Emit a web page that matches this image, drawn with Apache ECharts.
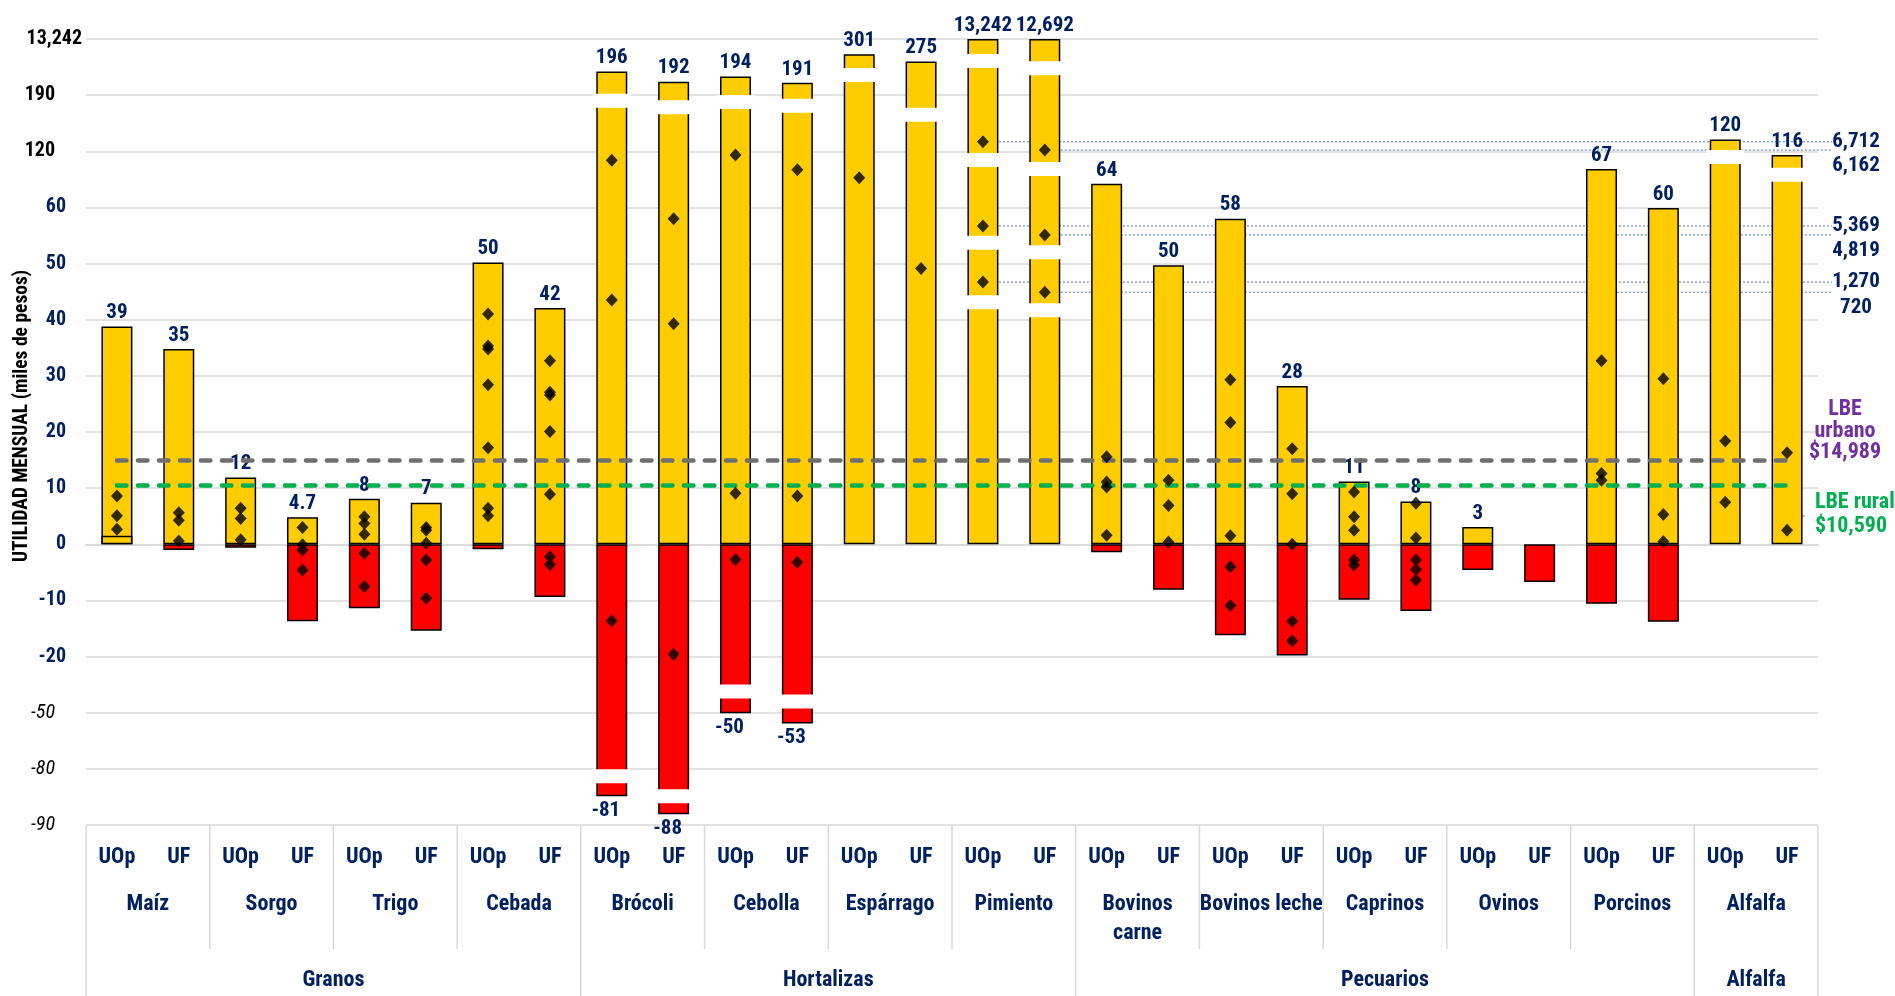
<!DOCTYPE html>
<html><head><meta charset="utf-8">
<script src="https://cdn.jsdelivr.net/npm/echarts@6/dist/echarts.min.js"></script>
<style>html,body{margin:0;padding:0;background:#fff}#c{width:1895px;height:996px}</style>
</head><body><div id="c"></div>
<script>
// ---------------- DATA ----------------
const subCats = ['UOp', 'UF'];
const crops = ['Maíz', 'Sorgo', 'Trigo', 'Cebada', 'Brócoli', 'Cebolla', 'Espárrago', 'Pimiento',
  'Bovinos carne', 'Bovinos leche', 'Caprinos', 'Ovinos', 'Porcinos', 'Alfalfa'];
const groups = ['Granos', 'Hortalizas', 'Pecuarios', 'Alfalfa'];
const groupSizes = [4, 4, 5, 1];
// printed (broken) y-axis ticks
const yTickValues = [-90, -80, -50, -20, -10, 0, 10, 20, 30, 40, 50, 60, 120, 190, 13242];
const yTickLabels = ['-90', '-80', '-50', '-20', '-10', '0', '10', '20', '30', '40', '50', '60', '120', '190', '13,242'];
// bar tops as read against the printed axis
const maxRead = [38.8, 34.8, 11.9, 4.8, 8.1, 7.4, 50.2, 42.1, 5672, 3322, 4497, 3061, 9718, 8021, 13242, 13242,
  85.2, 49.7, 58, 28.2, 11.2, 7.6, 3.1, null, 101, 59.9, 134.7, 115.9];
// printed value labels on top of bars
const maxLabel = [39, 35, 12, 4.7, 8, 7, 50, 42, 196, 192, 194, 191, 301, 275, 13242, 12692,
  64, 50, 58, 28, 11, 8, 3, null, 67, 60, 120, 116];
// bar bottoms as read against the printed axis (positive = lower edge of a bar that does not reach 0)
const minRead = [1.5, -1.0, -0.6, -13.7, -11.4, -15.4, -0.9, -9.4, -84.9, -88.1, -50.3, -55.7, null, null, null, null,
  -1.4, -8.1, -16.2, -19.8, -9.9, -11.9, -4.6, -6.7, -10.6, -13.8, null, null];
const minLabel = [null, null, null, null, null, null, null, null, -81, -88, -50, -53, null, null, null, null,
  null, null, null, null, null, null, null, null, null, null, null, null];
// individual observations (diamonds)
const diamonds = [
  [8.6, 5.1, 2.7], [5.6, 4.3, 0.6],
  [6.4, 4.6, 0.8], [3.0, -0.1, -1.0, -4.6],
  [4.9, 3.7, 1.8, -1.6, -7.5], [3.0, 2.5, 0.2, -2.8, -9.6],
  [41.0, 35.3, 34.8, 28.4, 17.2, 6.4, 5.1], [32.7, 27.1, 26.6, 20.1, 8.9, -2.2, -3.6],
  [110.5, 43.5, -13.6], [58.0, 39.3, -19.6],
  [115.9, 9.1, -2.7], [100.3, 8.6, -3.2],
  [91.8], [49.1],
  [131.8, 56.7, 46.7], [121.5, 55.1, 44.9],
  [15.6, 11.1, 10.2, 1.6], [11.4, 6.9, 0.4],
  [29.3, 21.7, 1.5, -4.0, -10.9], [17.0, 9.0, 0, -13.7, -17.2],
  [9.3, 4.9, 2.5, -2.8, -3.7], [7.3, 1.1, -2.8, -4.5, -6.4],
  [], [],
  [32.7, 12.6, 11.4], [29.5, 5.3, 0.5],
  [18.4, 7.5], [16.3, 2.5]
];
// axis breaks drawn on the bars: [category index, position on printed axis]
const breaks = [[8, 183], [9, 175], [10, 181.6], [11, 176.7], [12, 4889], [13, 165.5],
  [14, 8152], [14, 110.6], [14, 53.7], [14, 43.1], [15, 6455], [15, 101], [15, 52.0], [15, 41.7],
  [26, 114], [27, 94.8], [8, -81.3], [9, -84.9], [10, -38.6], [11, -44.0]];
// true values of the Pimiento observations (annotated on the right)
const pimientoUOpValues = [6712, 5369, 1270];
const pimientoUFValues = [6162, 4819, 720];
const lbeUrbano = 14.989;
const lbeRural = 10.590;

// ---------------- HELPERS ----------------
const FONT = '"Liberation Sans Narrow", "Roboto Condensed", "Arial Narrow", "DejaVu Sans Condensed", "Liberation Sans", sans-serif';
const NAVY = '#002060';
const ZI = yTickValues.indexOf(0);
function T(v) {
  const k = yTickValues;
  if (v <= k[0]) return -ZI;
  for (let i = 0; i < k.length - 1; i++) {
    if (v <= k[i + 1]) return i + (v - k[i]) / (k[i + 1] - k[i]) - ZI;
  }
  return k.length - 1 - ZI;
}
function fmt(n) { return n >= 1000 ? n.toLocaleString('en-US') : String(n); }

const cats = [];
crops.forEach(() => subCats.forEach(s => cats.push(s)));
const N = cats.length;

const maxData = maxRead.map(v => (v != null && v > 0) ? T(v) : '-');
const baseData = minRead.map(v => (v != null && v > 0) ? T(v) : '-');
const minData = minRead.map(v => (v != null && v < 0) ? T(v) : '-');
const diamondData = [];
diamonds.forEach((arr, i) => arr.forEach(v => diamondData.push([i, T(v)])));
const breakData = breaks.map(b => [b[0], T(b[1])]);

const chart = echarts.init(document.getElementById('c'), null, { renderer: 'canvas' });
const barCommon = { type: 'bar', barWidth: 31, barGap: '-100%', itemStyle: { borderColor: '#000', borderWidth: 1.5 } };
const dashStyle = [9.5, 11.5];

chart.setOption({
  animation: false,
  backgroundColor: '#fff',
  grid: { left: 86, right: 77, top: 39, bottom: 171, containLabel: false, outerBoundsMode: 'none' },
  xAxis: {
    type: 'category', data: cats,
    axisLine: { lineStyle: { color: '#d9d9d9', width: 1.5 } },
    axisTick: { show: false },
    axisLabel: { interval: 0, margin: 32, verticalAlign: 'middle', color: NAVY, fontWeight: 'bold', fontSize: 22, fontFamily: FONT }
  },
  yAxis: {
    type: 'value', min: -ZI, max: yTickValues.length - 1 - ZI, interval: 1,
    axisLine: { show: false }, axisTick: { show: false },
    splitLine: { lineStyle: { color: '#d9d9d9', width: 1.5 } },
    axisLabel: {
      margin: 3,
      formatter: function (v) {
        const i = Math.round(v) + ZI;
        const val = yTickValues[i];
        let st = 'n';
        if (val === 13242) st = 't';
        else if (val > 60) st = 'b';
        else if (val < -20) st = 'i';
        return '{' + st + '|' + yTickLabels[i] + '}';
      },
      rich: {
        n: { color: NAVY, fontWeight: 'bold', fontSize: 20, fontFamily: FONT, padding: [0, 17, 0, 0] },
        b: { color: '#000', fontWeight: 'bold', fontSize: 20, fontFamily: FONT, padding: [0, 28, 0, 0] },
        i: { color: '#000', fontStyle: 'italic', fontSize: 20, fontFamily: FONT, padding: [0, 28, 0, 0] },
        t: { color: '#000', fontWeight: 'bold', fontSize: 20, fontFamily: FONT, padding: [0, 1, 0, 0] }
      }
    }
  },
  series: [
    Object.assign({}, barCommon, {
      name: 'Máximo', data: maxData, itemStyle: { color: '#ffcc00', borderColor: '#000', borderWidth: 1.5 },
      label: {
        show: true, position: 'top', distance: 3, color: NAVY, fontWeight: 'bold', fontSize: 21, fontFamily: FONT,
        formatter: p => maxLabel[p.dataIndex] == null ? '' : fmt(maxLabel[p.dataIndex])
      }
    }),
    Object.assign({}, barCommon, {
      name: 'Base', data: baseData, itemStyle: { color: '#ffcc00', borderColor: '#000', borderWidth: 1.5 }
    }),
    Object.assign({}, barCommon, {
      name: 'Mínimo', data: minData, itemStyle: { color: '#ff0000', borderColor: '#000', borderWidth: 1.5 },
      label: {
        show: true, position: 'bottom', distance: 4, offset: [-6, 0], color: NAVY, fontWeight: 'bold', fontSize: 21, fontFamily: FONT,
        formatter: p => minLabel[p.dataIndex] == null ? '' : String(minLabel[p.dataIndex])
      }
    }),
    {
      name: 'Cortes', type: 'scatter', data: breakData, symbol: 'rect', symbolSize: [38, 14], z: 4, silent: true,
      itemStyle: { color: '#ffffff', opacity: 1 },
      markLine: {
        silent: true, symbol: ['none', 'none'], label: { show: false },
        data: [
          [{ coord: [0, T(lbeUrbano)], lineStyle: { color: '#6f6f6f', width: 4.5, type: dashStyle, cap: 'round' } }, { coord: [N - 1, T(lbeUrbano)] }],
          [{ coord: [0, T(lbeRural)], lineStyle: { color: '#00b050', width: 4.5, type: dashStyle, cap: 'round' } }, { coord: [N - 1, T(lbeRural)] }]
        ]
      }
    },
    {
      name: 'Observaciones', type: 'scatter', data: diamondData, symbol: 'diamond', symbolSize: [12, 13], z: 6,
      itemStyle: { color: '#000' }
    }
  ]
});

// ---------------- TABLE & ANNOTATIONS ----------------
function buildGraphic() {
  const g = [];
  const cx = i => chart.convertToPixel({ xAxisIndex: 0 }, i);
  const py = v => chart.convertToPixel({ yAxisIndex: 0 }, T(v));
  const band = cx(1) - cx(0);
  const left = cx(0) - band / 2;
  const right = left + band * N;
  const axisY = py(yTickValues[0]);
  const H = chart.getHeight();
  const lineSt = { stroke: '#d9d9d9', lineWidth: 1.5 };
  const txt = (x, y, text, extra) => g.push({
    type: 'text', x: x, y: y, silent: true,
    style: Object.assign({ text: text, fill: NAVY, font: 'bold 22px ' + FONT, align: 'center', verticalAlign: 'middle' }, extra || {})
  });
  // borders
  g.push({ type: 'line', shape: { x1: left, y1: axisY, x2: left, y2: H }, style: lineSt, silent: true });
  g.push({ type: 'line', shape: { x1: right, y1: axisY, x2: right, y2: H }, style: lineSt, silent: true });
  // crop separators and names
  let ci = 0;
  groups.forEach((gname, gi) => {
    const start = ci;
    for (let k = 0; k < groupSizes[gi]; k++) {
      const c = ci + k;
      const cl = left + c * 2 * band;
      const name = crops[c];
      const shown = name === 'Bovinos carne' ? 'Bovinos\ncarne' : name;
      txt(cl + band, axisY + 65, shown, { verticalAlign: 'top', lineHeight: 29 });
      if (k > 0) g.push({ type: 'line', shape: { x1: cl, y1: axisY, x2: cl, y2: axisY + 124 }, style: lineSt, silent: true });
    }
    ci += groupSizes[gi];
    const gl = left + start * 2 * band, gr = left + ci * 2 * band;
    txt((gl + gr) / 2, axisY + 155, gname);
    if (gi < groups.length - 1) g.push({ type: 'line', shape: { x1: gr, y1: axisY, x2: gr, y2: H }, style: lineSt, silent: true });
  });
  // Pimiento dotted leader lines + values
  const pim = [[14, pimientoUOpValues, 0], [15, pimientoUFValues, 16]];
  pim.forEach(([c, vals, dy]) => {
    vals.forEach((val, k) => {
      const y = py(diamonds[c][k]);
      g.push({ type: 'line', silent: true, shape: { x1: cx(c), y1: y, x2: right + 14, y2: y },
        style: { stroke: '#4472c4', lineWidth: 1, lineDash: [2, 2] }, z: -1 });
      txt(right + 38, y + dy, fmt(val), { font: 'bold 21px ' + FONT });
    });
  });
  // LBE annotations
  const yu = py(lbeUrbano), yr = py(lbeRural);
  txt(right + 27, yu - 29, 'LBE\nurbano\n$14,989', { fill: '#7030a0', font: 'bold 22px ' + FONT, lineHeight: 21.5 });
  txt(right - 3, yr + 30, 'LBE rural\n$10,590', { fill: '#00b050', font: 'bold 22px ' + FONT, lineHeight: 24, align: 'left' });
  const xe = cx(N - 1);
  g.push({ type: 'polyline', silent: true, shape: { points: [[xe + 2, yr], [xe + 10, yr + 31], [xe + 18, yr + 31]] },
    style: { stroke: '#a6a6a6', lineWidth: 1.2, fill: null } });
  // y-axis title
  g.push({ type: 'text', x: 22, y: 416, rotation: Math.PI / 2, silent: true,
    style: { text: 'UTILIDAD MENSUAL (miles de pesos)', fill: '#000', font: 'bold 19.5px ' + FONT, align: 'center', verticalAlign: 'middle' } });
  return g;
}
chart.setOption({ graphic: buildGraphic() });
</script>
</body></html>
